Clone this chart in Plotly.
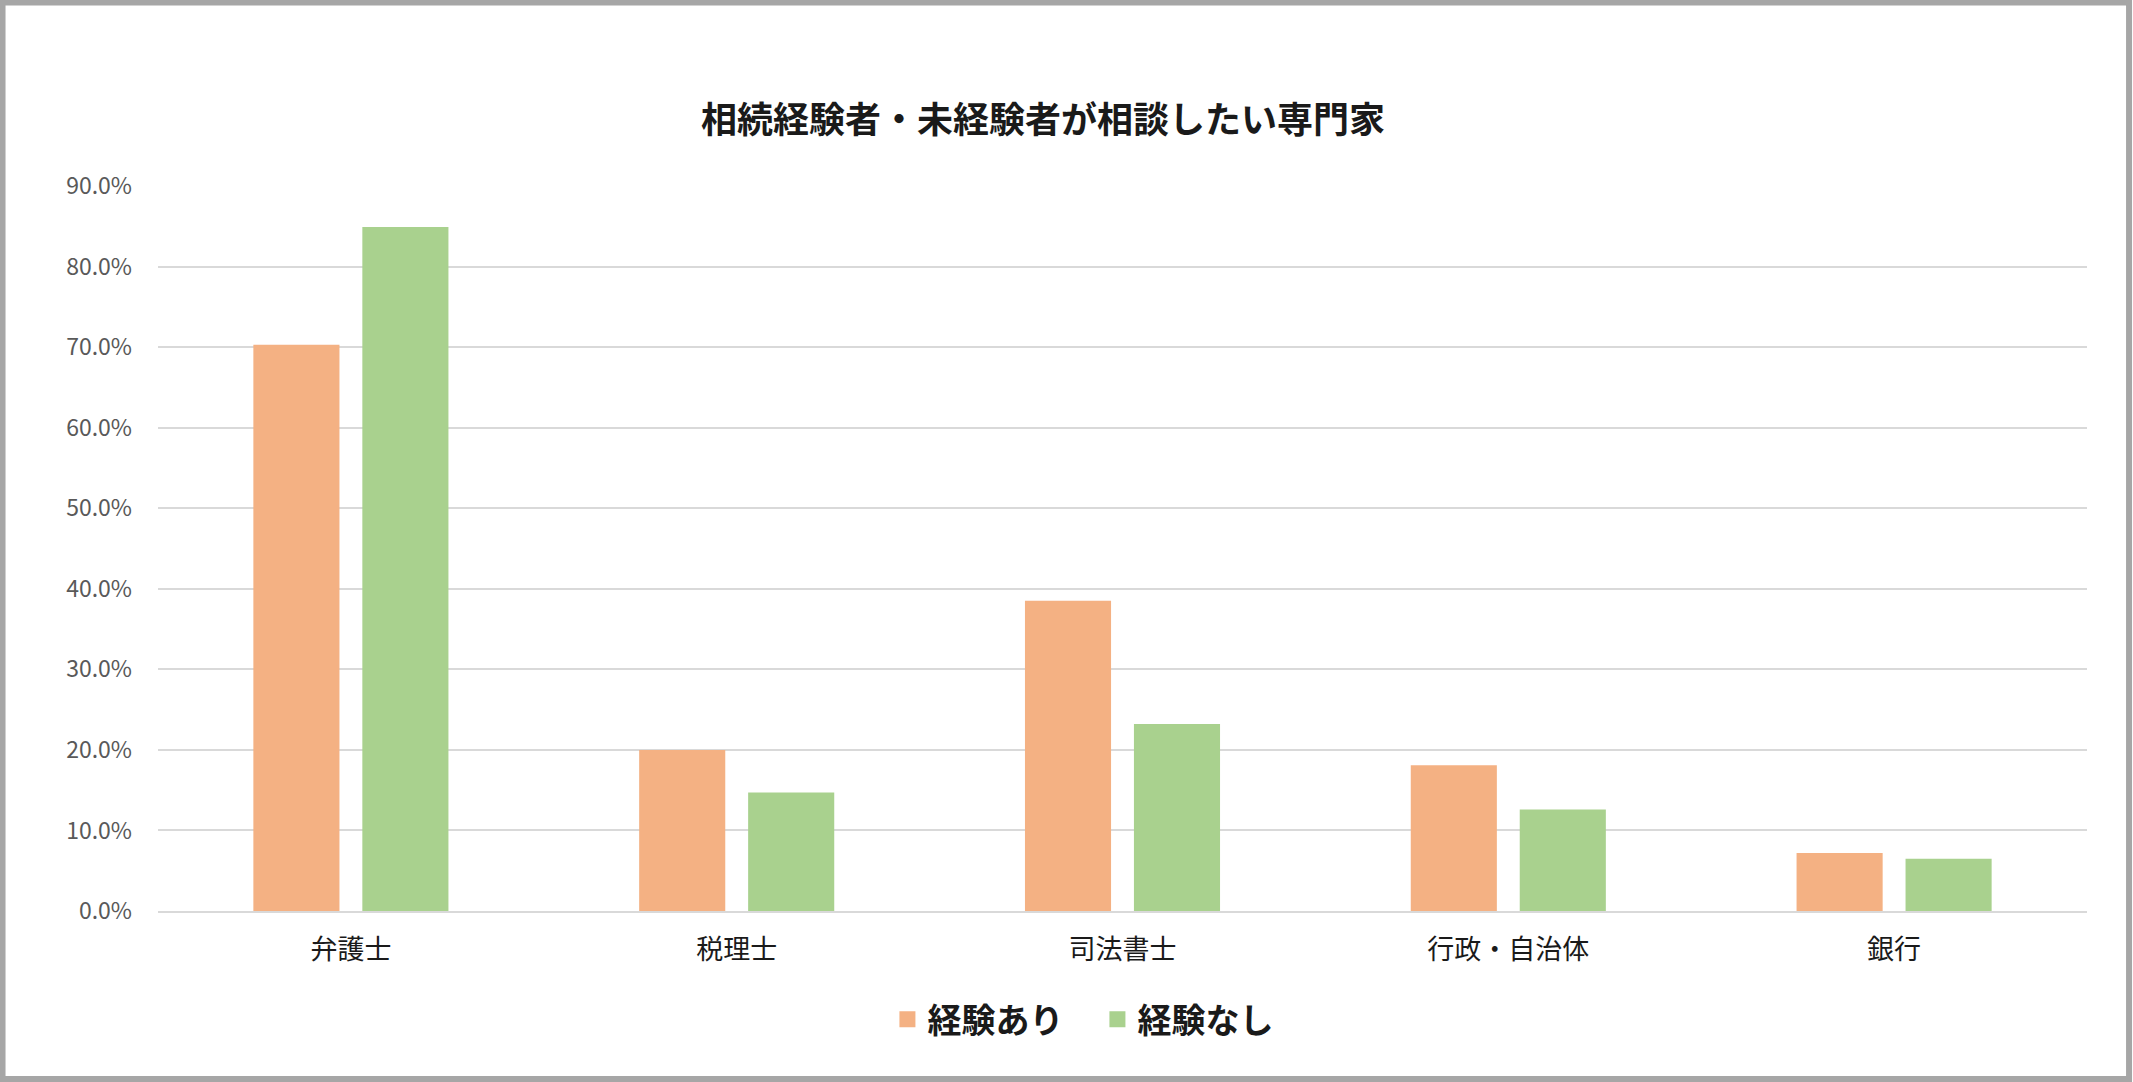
import plotly.graph_objects as go

# categories and series (percent)
categories = ["弁護士", "税理士", "司法書士", "行政・自治体", "銀行"]
experienced = [70.3, 20.0, 38.5, 18.1, 7.2]
inexperienced = [84.9, 14.7, 23.2, 12.6, 6.5]
series_names = ["経験あり", "経験なし"]
series_colors = ["#F4B183", "#A9D18E"]
title_text = "相続経験者・未経験者が相談したい専門家"

font_jp = "Noto Sans CJK JP"

fig = go.Figure()
for vals, name, col in zip([experienced, inexperienced], series_names, series_colors):
    fig.add_trace(go.Bar(x=categories, y=vals, name=name, showlegend=False,
                         marker=dict(color=col, line=dict(width=0))))
# legend-only entries so the square keys can be larger than the bar default
for name, col in zip(series_names, series_colors):
    fig.add_trace(go.Scatter(x=[None], y=[None], mode="markers", name=name,
                             marker=dict(symbol="square", size=16, color=col)))

fig.update_layout(
    width=2133, height=1082,
    margin=dict(l=158, r=46, t=186, b=171),
    paper_bgcolor="white", plot_bgcolor="white",
    barmode="group", bargap=0.435, bargroupgap=0.21,
    font=dict(family=font_jp, color="#595959"),
    title=dict(text=title_text, x=0.489, xref="container", xanchor="center",
               y=0.889, yref="container", yanchor="middle",
               font=dict(size=36, color="#1a1a1a", family=font_jp, weight="bold")),
    legend=dict(orientation="h", x=0.487, xanchor="center", y=-0.15, yanchor="middle",
                font=dict(size=34, color="#1a1a1a", weight="bold"), itemsizing="trace",
                entrywidth=165, traceorder="normal"),
)

fig.update_yaxes(range=[0, 90], dtick=10, tickformat=".1f", ticksuffix="%",
                 showgrid=True, gridcolor="#D9D9D9", gridwidth=2,
                 zeroline=False, showline=False,
                 tickfont=dict(size=23, color="#595959"), ticklabelstandoff=25)
fig.update_xaxes(showline=True, linecolor="#D9D9D9", linewidth=2, showgrid=False,
                 tickfont=dict(size=27, color="#1a1a1a"), ticklabelstandoff=14)

# grey frame round the picture
fig.add_shape(type="rect", xref="paper", yref="paper",
              x0=-0.0806, x1=1.0218, y0=-0.2317, y1=1.2531,
              line=dict(color="#A6A6A6", width=6), fillcolor="rgba(0,0,0,0)", layer="above")

fig.write_html("out.html", config={"displayModeBar": False},
               post_script="document.body.style.margin='0';")
